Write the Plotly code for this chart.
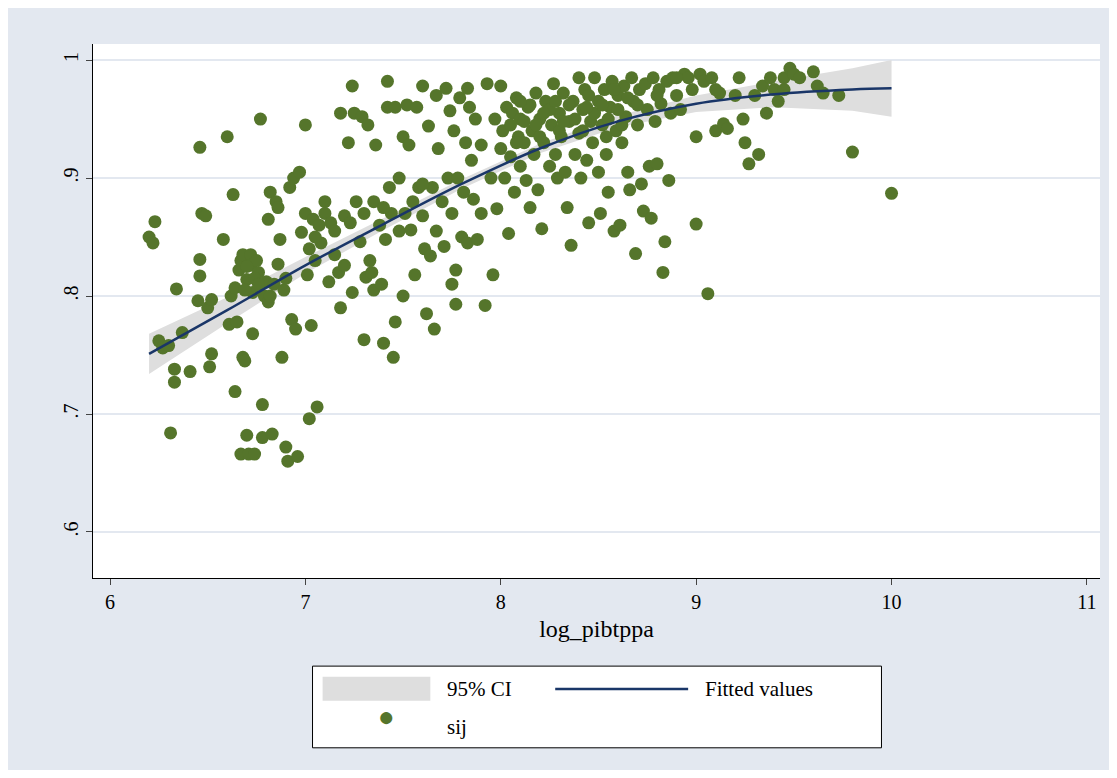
import plotly.graph_objects as go

# scatter data (log_pibtppa, sij)
pts = [
(6.2,.850),(6.22,.845),(6.23,.863),(6.25,.762),(6.27,.756),(6.3,.758),(6.31,.684),(6.33,.738),(6.33,.727),(6.34,.806),
(6.37,.769),(6.41,.736),(6.45,.796),(6.46,.817),(6.46,.831),(6.46,.926),(6.47,.870),(6.49,.868),(6.5,.790),(6.51,.740),
(6.52,.751),(6.52,.797),(6.58,.848),(6.6,.935),(6.61,.776),(6.62,.800),(6.63,.886),(6.64,.719),(6.64,.807),(6.65,.778),
(6.66,.822),(6.67,.830),(6.67,.666),(6.68,.835),(6.68,.748),(6.69,.745),(6.7,.814),(6.7,.682),(6.71,.666),(6.72,.835),
(6.72,.826),(6.73,.768),(6.73,.803),(6.74,.666),(6.75,.830),(6.76,.820),(6.77,.950),(6.78,.708),(6.78,.680),(6.79,.800),
(6.8,.812),(6.81,.795),(6.81,.865),(6.82,.888),(6.83,.683),(6.84,.810),(6.85,.880),(6.86,.875),(6.86,.827),(6.87,.848),
(6.88,.748),(6.89,.805),(6.9,.672),(6.91,.660),(6.92,.892),(6.93,.780),(6.94,.900),(6.95,.772),(6.96,.664),(6.97,.905),
(6.98,.854),(7.0,.945),(7.0,.870),(7.01,.818),(7.02,.696),(7.02,.840),(7.03,.775),(7.04,.865),(7.05,.830),(7.06,.706),
(7.07,.860),(7.08,.845),(7.1,.880),(7.1,.870),(7.12,.812),(7.13,.862),(7.15,.835),(7.17,.820),(7.18,.955),(7.18,.790),
(7.2,.826),(7.2,.868),(7.22,.930),(7.23,.862),(7.24,.978),(7.24,.803),(7.25,.955),(7.26,.880),(7.28,.846),(7.29,.952),
(7.3,.763),(7.3,.870),(7.31,.816),(7.32,.945),(7.33,.830),(7.34,.820),(7.35,.880),(7.35,.805),(7.36,.928),(7.38,.860),
(7.39,.810),(7.4,.760),(7.41,.848),(7.42,.982),(7.42,.960),(7.43,.892),(7.44,.870),(7.45,.748),(7.46,.778),(7.46,.960),
(7.48,.900),(7.48,.855),(7.5,.935),(7.5,.800),(7.51,.870),(7.52,.962),(7.53,.928),(7.54,.856),(7.55,.880),(7.56,.818),
(7.57,.960),(7.58,.892),(7.6,.978),(7.6,.868),(7.61,.840),(7.62,.785),(7.63,.944),(7.64,.834),(7.65,.892),(7.66,.772),
(7.67,.970),(7.67,.855),(7.68,.925),(7.7,.880),(7.71,.842),(7.72,.976),(7.73,.900),(7.74,.957),(7.75,.870),(7.75,.810),
(7.76,.940),(7.77,.822),(7.77,.793),(7.78,.900),(7.79,.968),(7.8,.850),(7.81,.888),(7.82,.930),(7.83,.976),(7.83,.845),
(7.84,.960),(7.85,.915),(7.86,.882),(7.87,.950),(7.88,.848),(7.9,.928),(7.9,.870),(7.92,.792),(7.93,.980),(7.95,.900),
(7.96,.818),(7.97,.950),(7.98,.874),(8.0,.925),(8.0,.978),(8.01,.940),(8.02,.900),(8.03,.960),(8.04,.853),(8.05,.918),
(8.06,.955),(8.07,.888),(8.08,.968),(8.09,.935),(8.1,.910),(8.1,.950),(8.12,.930),(8.13,.898),(8.14,.960),(8.15,.875),
(8.16,.940),(8.17,.920),(8.18,.972),(8.19,.890),(8.2,.950),(8.21,.857),(8.22,.930),(8.23,.965),(8.25,.910),(8.26,.945),
(8.27,.980),(8.28,.920),(8.29,.900),(8.3,.955),(8.31,.935),(8.32,.972),(8.33,.905),(8.34,.875),(8.35,.948),(8.36,.843),
(8.37,.965),(8.38,.920),(8.4,.985),(8.4,.938),(8.41,.900),(8.42,.958),(8.43,.975),(8.44,.915),(8.45,.862),(8.46,.948),
(8.47,.930),(8.48,.985),(8.5,.965),(8.5,.905),(8.51,.870),(8.52,.945),(8.53,.975),(8.54,.920),(8.55,.888),(8.56,.960),
(8.57,.982),(8.58,.855),(8.59,.940),(8.6,.970),(8.61,.860),(8.62,.930),(8.63,.978),(8.64,.952),(8.65,.905),(8.66,.890),
(8.67,.985),(8.68,.965),(8.69,.836),(8.7,.945),(8.71,.975),(8.72,.895),(8.73,.872),(8.74,.980),(8.75,.958),(8.76,.910),
(8.77,.866),(8.78,.985),(8.79,.948),(8.8,.912),(8.81,.975),(8.82,.963),(8.83,.820),(8.84,.846),(8.85,.982),(8.86,.898),
(8.87,.955),(8.88,.985),(8.9,.970),(8.92,.958),(8.94,.988),(8.96,.985),(8.98,.975),(9.0,.935),(9.0,.861),(9.02,.988),
(9.04,.982),(9.06,.802),(9.08,.985),(9.1,.940),(9.12,.972),(9.14,.946),(9.16,.942),(9.2,.970),(9.22,.985),(9.24,.950),
(9.25,.930),(9.27,.912),(9.3,.970),(9.32,.920),(9.34,.978),(9.36,.955),(9.38,.985),(9.4,.975),(9.42,.965),(9.45,.985),
(9.48,.993),(9.5,.988),(9.53,.985),(9.6,.990),(9.62,.978),(9.65,.972),(9.73,.970),(9.8,.922),(10.0,.887),
(8.05,.945),(8.15,.962),(8.25,.958),(8.35,.962),(8.45,.970),(8.55,.950),(8.65,.968),(8.12,.948),(8.3,.940),(8.6,.958),
(8.08,.930),(8.18,.945),(8.22,.955),(8.28,.965),(8.38,.950),(8.42,.940),(8.48,.955),(8.52,.962),(8.58,.975),(8.62,.945),
(8.1,.965),(8.2,.935),(8.32,.948),(8.44,.960),(8.54,.935),(8.7,.962),(8.8,.970),(8.9,.985),(9.1,.975),(9.45,.975),
(6.7,.825),(6.74,.815),(6.76,.810),(6.82,.800),(6.69,.805),(6.9,.815),(7.05,.850),(7.15,.855),(7.4,.875),(7.6,.895),
]
sx = [p[0] for p in pts]
sy = [p[1] for p in pts]

# fitted curve and 95% CI
fit_x = [6.2, 6.6, 7.0, 7.4, 7.8, 8.2, 8.6, 9.0, 9.4, 9.8, 10.0]
fit_y = [.751, .788, .826, .861, .895, .925, .948, .963, .971, .975, .976]
ci_hw = [.017, .011, .007, .005, .004, .004, .005, .007, .011, .018, .024]
ci_lo = [y - h for y, h in zip(fit_y, ci_hw)]
ci_hi = [y + h for y, h in zip(fit_y, ci_hw)]

green = "#55752b"
navy = "#1a3668"
font = "Liberation Serif"

fig = go.Figure()
fig.add_trace(go.Scatter(x=fit_x + fit_x[::-1], y=ci_hi + ci_lo[::-1], fill="toself",
                         fillcolor="#dedede", line=dict(width=0), hoverinfo="skip"))
fig.add_trace(go.Scatter(x=sx, y=sy, mode="markers",
                         marker=dict(color=green, size=13, line=dict(width=0))))
fig.add_trace(go.Scatter(x=fit_x, y=fit_y, mode="lines", line=dict(color=navy, width=2.5, shape="spline")))

# hand-drawn legend box below the plot
shapes = [
    dict(type="rect", xref="paper", yref="paper", x0=0.218, x1=0.783, y0=-0.318, y1=-0.165,
         line=dict(color="black", width=1), fillcolor="white"),
    dict(type="rect", xref="paper", yref="paper", x0=0.228, x1=0.335, y0=-0.230, y1=-0.185,
         line=dict(width=0), fillcolor="#dedede"),
    dict(type="line", xref="paper", yref="paper", x0=0.459, x1=0.591, y0=-0.208, y1=-0.208,
         line=dict(color=navy, width=2.5)),
]
ann = [
    dict(text="95% CI", x=0.350, y=-0.208),
    dict(text="Fitted values", x=0.606, y=-0.208),
    dict(text="sij", x=0.350, y=-0.279),
]
annotations = [dict(a, xref="paper", yref="paper", xanchor="left", yanchor="middle",
                    showarrow=False, font=dict(size=21, color="black", family=font)) for a in ann]
annotations.append(dict(text="●", x=0.281, y=-0.293, xref="paper", yref="paper", showarrow=False,
                        font=dict(size=28, color=green)))

fig.update_layout(
    width=1101, height=762, showlegend=False,
    paper_bgcolor="#e3e8f0", plot_bgcolor="white",
    margin=dict(l=85, r=9, t=36, b=192),
    font=dict(family=font, size=20, color="black"),
    shapes=shapes, annotations=annotations,
    xaxis=dict(range=[5.913, 11.067], tickvals=[6, 7, 8, 9, 10, 11], showgrid=False, zeroline=False,
               showline=True, linecolor="black", ticks="outside", ticklen=6,
               title=dict(text="log_pibtppa", standoff=8)),
    yaxis=dict(range=[0.561, 1.0136], tickvals=[.6, .7, .8, .9, 1], ticktext=[".6", ".7", ".8", ".9", "1"],
               tickangle=-90, showgrid=True, gridcolor="#e3e8f0", gridwidth=2, zeroline=False,
               showline=True, linecolor="black", ticks="outside", ticklen=6),
)
fig.write_html("out.html")
